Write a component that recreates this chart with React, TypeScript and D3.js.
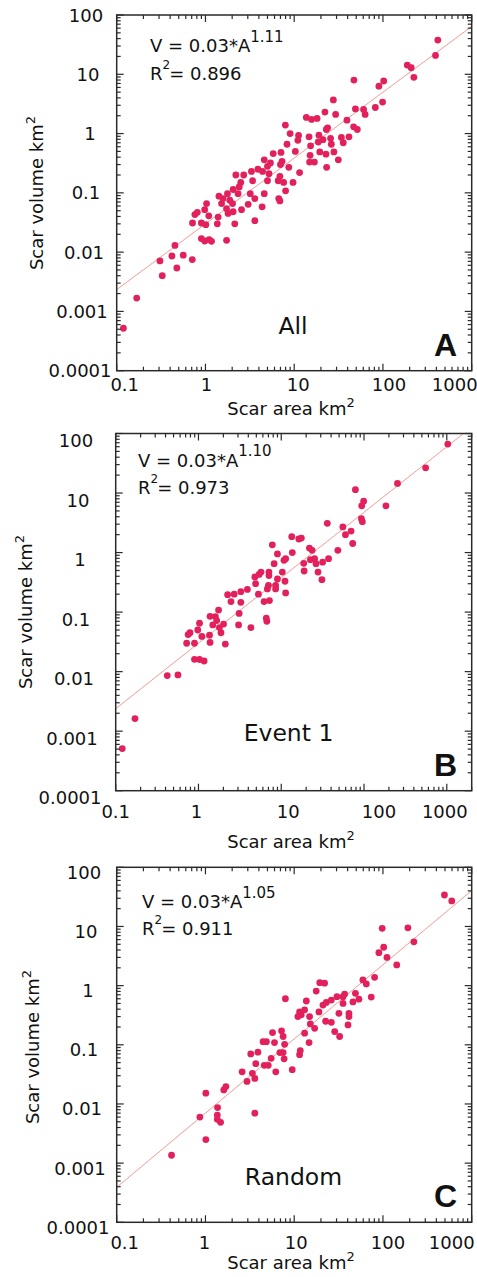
import React from "react";
import * as d3 from "d3";

// ---------- DATA (area km², volume km²) ----------
const allPoints: [number, number][] = [
  [415, 37.8], [391, 20.8], [188, 14.3], [208, 12.9], [223, 8.9], [47.1, 8.0], [102, 7.7], [90, 6.3],
  [27.6, 3.7], [99, 3.4], [82, 2.75], [49, 2.6], [60.5, 2.55], [63, 2.1], [22.2, 2.3], [29.3, 2.1],
  [13.7, 1.87], [15.7, 1.73], [18.1, 1.8], [39.3, 1.68], [7.95, 1.39], [46.7, 1.3], [51.4, 1.17],
  [23.8, 1.25], [23, 1.17], [9.0, 1.0], [11.2, 0.93], [14.7, 0.88], [19, 0.94], [41.4, 0.88], [34, 0.86],
  [25.7, 0.83], [21.1, 0.79], [11, 0.77], [18.7, 0.72], [8.3, 0.66], [15.3, 0.62], [26.2, 0.66],
  [35.7, 0.7], [10.3, 0.5], [28, 0.49], [19.4, 0.49], [22.8, 0.45], [15.1, 0.43], [5.8, 0.46], [7.1, 0.48],
  [31.4, 0.36], [14.9, 0.33], [16.9, 0.33], [4.6, 0.36], [5.4, 0.32], [23.2, 0.27], [7.3, 0.34], [5.0, 0.28],
  [7.0, 0.3], [8.7, 0.27], [3.9, 0.25], [4.4, 0.23], [11.5, 0.22], [2.2, 0.2], [2.7, 0.2], [3.3, 0.23],
  [5.2, 0.21], [6.9, 0.19], [2.5, 0.15], [3.4, 0.16], [5.0, 0.16], [6.6, 0.16], [7.6, 0.15], [9.7, 0.15],
  [2.05, 0.114], [2.4, 0.126], [3.2, 0.097], [4.6, 0.097], [8.0, 0.108], [6.7, 0.08],
  [0.119, 0.00052], [0.168, 0.00168], [0.307, 0.0071], [0.326, 0.004], [0.419, 0.0086], [0.476, 0.0054],
  [0.453, 0.013], [0.562, 0.0089], [0.71, 0.0075], [0.715, 0.031], [0.76, 0.043], [0.81, 0.047],
  [0.9, 0.031], [1.03, 0.066], [0.98, 0.052], [1.09, 0.041], [1.01, 0.029], [0.9, 0.0169], [0.98, 0.0154],
  [1.17, 0.0152], [1.1, 0.0163], [1.36, 0.03], [1.39, 0.039], [1.42, 0.088], [1.52, 0.066], [1.58, 0.08],
  [1.73, 0.054], [1.8, 0.045], [1.77, 0.097], [1.88, 0.075], [2.05, 0.048], [2.14, 0.03], [1.73, 0.0158],
  [2.33, 0.097], [2.02, 0.066], [2.55, 0.052], [3.6, 0.08], [3.03, 0.064], [3.6, 0.034], [4.35, 0.058],
  [6.9, 0.073],
];

const event1Points: [number, number][] = [
  [1028, 66.5], [555, 26.5], [254, 14.5], [78.7, 11.4], [184, 6.1], [99, 7.3], [93.8, 6.1], [93, 3.7],
  [95.5, 3.3], [36, 3.1], [55.5, 2.7], [59.7, 2.0], [69.8, 2.3], [73, 1.42], [48.3, 1.09], [13.4, 1.85],
  [16.3, 1.69], [17.5, 1.75], [7.8, 1.35], [13.6, 1.0], [9.0, 0.95], [11.3, 0.79], [10.8, 0.74],
  [21.9, 1.19], [23.6, 1.09], [22.5, 0.76], [25.3, 0.79], [18.7, 0.66], [26.3, 0.65], [31.6, 0.69],
  [37.3, 0.79], [18.9, 0.49], [27.8, 0.47], [31, 0.35], [8.2, 0.65], [10.3, 0.47], [5.7, 0.47], [5.4, 0.43],
  [7.1, 0.47], [7.1, 0.41], [9.0, 0.36], [4.8, 0.39], [4.9, 0.3], [7.0, 0.28], [6.8, 0.245], [8.55, 0.28],
  [8.55, 0.245], [11.1, 0.33], [11.3, 0.21], [5.3, 0.2], [3.9, 0.24], [3.25, 0.22], [2.7, 0.2], [3.25, 0.146],
  [2.47, 0.15], [6.2, 0.15], [7.2, 0.156], [3.1, 0.095], [6.6, 0.079], [2.25, 0.196],
  [0.12, 0.00051], [0.171, 0.00163], [0.42, 0.0086], [0.565, 0.0088], [0.72, 0.03], [0.75, 0.042],
  [0.79, 0.045], [0.895, 0.03], [0.98, 0.05], [1.03, 0.065], [1.1, 0.039], [0.895, 0.0161], [1.03, 0.016],
  [1.17, 0.0151], [1.36, 0.041], [1.38, 0.085], [1.38, 0.031], [1.49, 0.061], [1.6, 0.084], [1.66, 0.072],
  [1.75, 0.108], [1.79, 0.055], [1.87, 0.045], [2.01, 0.063], [2.11, 0.029], [3.05, 0.061],
  [4.3, 0.055], [6.7, 0.07],
];

const randomPoints: [number, number][] = [
  [493, 34], [596, 27], [98, 9.3], [191, 9.5], [223, 5.5], [102, 4.45], [90, 3.6], [111, 3.0], [143, 2.24],
  [59.4, 1.25], [64.9, 1.07], [80.5, 1.38], [73.8, 0.64], [49, 0.74], [53.6, 0.59], [45.9, 0.53], [37, 0.72],
  [35.5, 0.65], [30.3, 0.65], [35.5, 0.5], [26.2, 0.57], [23, 0.52], [21.1, 0.47], [19.4, 1.12], [22, 1.1],
  [17.7, 0.81], [19, 0.36], [13.7, 0.55], [11.5, 0.36], [12, 0.32], [11, 0.3], [13.1, 0.39], [14.9, 0.3],
  [15.2, 0.225], [17, 0.19], [22.6, 0.25], [26.2, 0.24], [28.6, 0.167], [31.9, 0.34], [41.4, 0.34],
  [41.4, 0.3], [40.4, 0.217], [32.5, 0.138], [7.96, 0.6], [5.7, 0.161], [7.2, 0.172], [7.5, 0.138],
  [13.1, 0.157],
  [0.415, 0.00136], [0.865, 0.006], [1.01, 0.0152], [1.01, 0.0025], [1.37, 0.0087], [1.36, 0.0065],
  [1.36, 0.0055], [1.48, 0.0049], [1.61, 0.0173], [1.7, 0.0197],
  [3.6, 0.007], [2.59, 0.035], [2.94, 0.024], [3.38, 0.033], [3.6, 0.027], [3.69, 0.048], [3.24, 0.07],
  [3.9, 0.075], [4.46, 0.113], [4.86, 0.113], [4.6, 0.045], [5.1, 0.045], [6.0, 0.109], [5.5, 0.059],
  [6.2, 0.035], [6.9, 0.074], [7.5, 0.074], [7.8, 0.102], [7.7, 0.058], [9.5, 0.038], [11.5, 0.068],
  [11.7, 0.08], [14.7, 0.109],
];

const panelData = [allPoints, event1Points, randomPoints];
const panelNames = ["All", "Event 1", "Random"];
const panelLetters = ["A", "B", "C"];
const fitExpText = ["1.11", "1.10", "1.05"];
const fitR2Text = ["0.896", "0.973", "0.911"];
const lineCoef = [0.03, 0.03, 0.007];
const lineExp = [1.11, 1.1, 1.254];
const xMaxes = [1000, 2000, 1000];
const yTicks = [0.0001, 0.001, 0.01, 0.1, 1, 10, 100];
const yTickText = ["0.0001", "0.001", "0.01", "0.1", "1", "10", "100"];
const xTicks = [0.1, 1, 10, 100, 1000];
const xTickText = ["0.1", "1", "10", "100", "1000"];

// ---------- LAYOUT ----------
const layout = [
  { x0: 116.7, x1: 471.7, y0: 15, y1: 370.7, yLabC: 86, yLabDy: 0, xLabY: 391, xLabOff: [8, 1, 4, 6, -17],
    xTitleY: 414.5, yTitleX: 43, yTitleCy: 193, eqX: 150, eqY: 52, r2Y: 80, nameX: 293, nameY: 334 },
  { x0: 115.7, x1: 471.7, y0: 433.5, y1: 790.7, yLabC: 76, yLabDy: 7, xLabY: 818, xLabOff: [0, -2, 7, 15, -2],
    xTitleY: 848, yTitleX: 32, yTitleCy: 612, eqX: 138, eqY: 466.7, r2Y: 494, nameX: 288.5, nameY: 741 },
  { x0: 116.7, x1: 471.7, y0: 867.3, y1: 1222.3, yLabC: 84, yLabDy: 5, xLabY: 1249, xLabOff: [8, -1, 2, 5, -20],
    xTitleY: 1269, yTitleX: 39, yTitleCy: 1047, eqX: 142, eqY: 908.3, r2Y: 935, nameX: 293.5, nameY: 1185 },
];

const FONT = "DejaVu Sans";
const DOT = "#e2215c";
const LINE = "#f08a80";
const AXIS = "#2a2a2a";

function logTicks(min: number, max: number) {
  const out: { v: number; major: boolean }[] = [];
  const k0 = Math.floor(Math.log10(min));
  const k1 = Math.ceil(Math.log10(max));
  for (let k = k0; k <= k1; k++) {
    for (let m = 1; m <= 9; m++) {
      const v = m * Math.pow(10, k);
      if (v >= min * 0.9999 && v <= max * 1.0001) out.push({ v, major: m === 1 });
    }
  }
  return out;
}

function Panel({ i }: { i: number }) {
  const L = layout[i];
  const x = d3.scaleLog().domain([0.1, xMaxes[i]]).range([L.x0, L.x1]);
  const y = d3.scaleLog().domain([0.0001, 100]).range([L.y1, L.y0]);
  const xt = logTicks(0.1, xMaxes[i]);
  const yt = logTicks(0.0001, 100);
  const MAJ = 7;
  const MIN = 4;
  const lineGen = d3.line<number>().x((a) => x(a)).y((a) => y(lineCoef[i] * Math.pow(a, lineExp[i])));
  const lineAreas = d3.range(0, 201).map((j) => 0.1 * Math.pow(xMaxes[i] / 0.1, j / 200));
  const clipId = `clip${i}`;
  return (
    <g>
      <defs>
        <clipPath id={clipId}>
          <rect x={L.x0} y={L.y0} width={L.x1 - L.x0} height={L.y1 - L.y0} />
        </clipPath>
      </defs>
      <path d={lineGen(lineAreas) || ""} fill="none" stroke={LINE} strokeWidth={0.9} clipPath={`url(#${clipId})`} />
      {panelData[i].map((p, j) => (
        <circle key={j} cx={x(p[0])} cy={y(p[1])} r={3.4} fill={DOT} />
      ))}
      <rect x={L.x0} y={L.y0} width={L.x1 - L.x0} height={L.y1 - L.y0} fill="none" stroke={AXIS} strokeWidth={1.5} />
      {xt.map((t, j) => (
        <g key={"x" + j}>
          <line x1={x(t.v)} x2={x(t.v)} y1={L.y1} y2={L.y1 - (t.major ? MAJ : MIN)} stroke={AXIS} strokeWidth={1.2} />
          <line x1={x(t.v)} x2={x(t.v)} y1={L.y0} y2={L.y0 + (t.major ? MAJ : MIN)} stroke={AXIS} strokeWidth={1.2} />
        </g>
      ))}
      {yt.map((t, j) => (
        <g key={"y" + j}>
          <line y1={y(t.v)} y2={y(t.v)} x1={L.x0} x2={L.x0 + (t.major ? MAJ : MIN)} stroke={AXIS} strokeWidth={1.2} />
          <line y1={y(t.v)} y2={y(t.v)} x1={L.x1} x2={L.x1 - (t.major ? MAJ : MIN)} stroke={AXIS} strokeWidth={1.2} />
        </g>
      ))}
      {yTicks.map((v, j) => (
        <text key={"yl" + j} x={L.yLabC - 2 * (yTickText[j].length - 3)} y={y(v) + L.yLabDy + 6.5}
          textAnchor="middle" fontFamily={FONT} fontSize={18} fill="#111">{yTickText[j]}</text>
      ))}
      {xTicks.map((v, j) => (
        <text key={"xl" + j} x={x(v) + L.xLabOff[j]} y={L.xLabY}
          textAnchor="middle" fontFamily={FONT} fontSize={18} fill="#111">{xTickText[j]}</text>
      ))}
      <text x={291} y={L.xTitleY} textAnchor="middle" fontFamily={FONT} fontSize={18} fill="#111">
        Scar area km<tspan dy={-8} fontSize={13}>2</tspan>
      </text>
      <text transform={`translate(${L.yTitleX},${L.yTitleCy}) rotate(-90)`} textAnchor="middle"
        fontFamily={FONT} fontSize={18} fill="#111">
        Scar volume km<tspan dy={-8} fontSize={13}>2</tspan>
      </text>
      <text x={L.eqX} y={L.eqY} fontFamily={FONT} fontSize={18} fill="#111">
        V = 0.03*A<tspan dy={-10.5} fontSize={15}>{fitExpText[i]}</tspan>
      </text>
      <text x={L.eqX} y={L.r2Y} fontFamily={FONT} fontSize={18} fill="#111">
        R<tspan dy={-11} fontSize={12}>2</tspan><tspan dy={11} dx={-1}>= {fitR2Text[i]}</tspan>
      </text>
      <text x={L.nameX} y={L.nameY} textAnchor="middle" fontFamily={FONT} fontSize={23.5} fill="#111">
        {panelNames[i]}
      </text>
      <text x={457} y={L.y1 - 15} textAnchor="end" fontFamily="Liberation Sans" fontWeight="bold" fontSize={32} fill="#111">
        {panelLetters[i]}
      </text>
    </g>
  );
}

export default function App() {
  return (
    <div style={{ position: "absolute", left: 0, top: 0 }}>
      <svg width={477} height={1277} style={{ display: "block", background: "#fff" }}>
        {[0, 1, 2].map((i) => (
          <Panel key={i} i={i} />
        ))}
      </svg>
    </div>
  );
}
